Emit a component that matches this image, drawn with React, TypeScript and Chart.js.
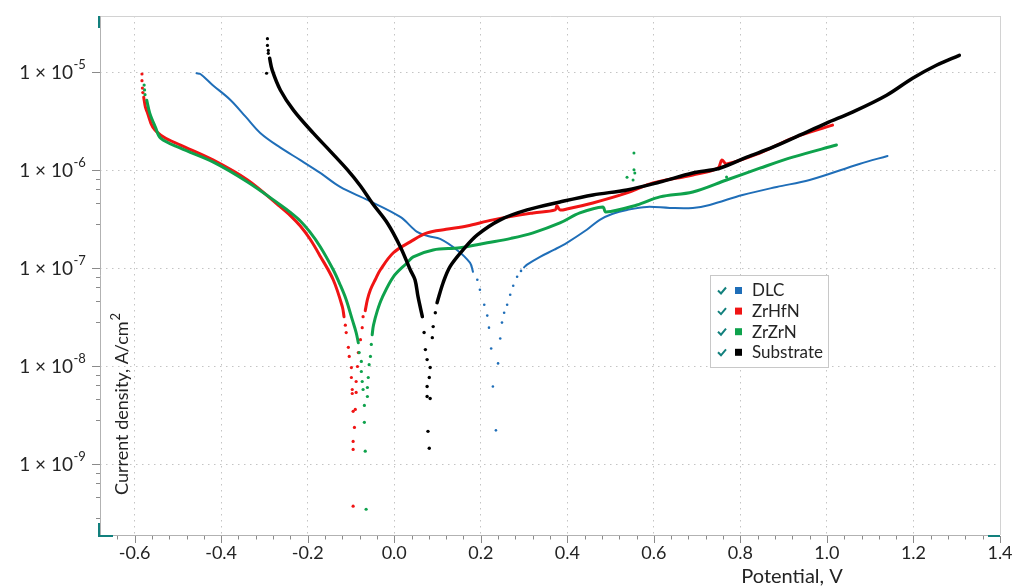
import React, { useEffect, useRef } from "react";
import { Chart, registerables } from "chart.js";

Chart.register(...registerables);

type Pt = [number, number];

// ---------- legend / series ----------
const seriesNames = ["DLC", "ZrHfN", "ZrZrN", "Substrate"];
const seriesColors = ["#1f6eb8", "#f01414", "#0ea24c", "#000000"];

// ---------- axis ticks ----------
const xMin = -0.68;
const xMax = 1.4;
const xMajorTicks = [-0.6, -0.4, -0.2, 0.0, 0.2, 0.4, 0.6, 0.8, 1.0, 1.2, 1.4];
const xMinorStep = 0.04;
const yMin = 1.9e-10;
const yMax = 3.75e-5;
const yMajorTicks = [1e-9, 1e-8, 1e-7, 1e-6, 1e-5];
const yMajorExponents = ["-9", "-8", "-7", "-6", "-5"];
const yMinorFactors = [0.82, 0.64, 0.46, 0.28];

// ---------- DLC (potential V, current density A/cm2) ----------
const dlcCathodic: Pt[] = [
  [-0.457, 9.77e-6], [-0.448, 9.6e-6], [-0.42, 7.43e-6], [-0.378, 5.19e-6], [-0.343, 3.5e-6],
  [-0.309, 2.39e-6], [-0.263, 1.7e-6], [-0.217, 1.27e-6], [-0.171, 9.4e-7], [-0.125, 6.76e-7],
  [-0.062, 4.98e-7], [0.014, 3.34e-7], [0.053, 2.35e-7], [0.08, 2.12e-7], [0.106, 2.0e-7],
  [0.145, 1.54e-7], [0.175, 1.14e-7], [0.182, 9.2e-8],
];
const dlcDip: Pt[] = [
  [0.192, 7.64e-8], [0.198, 6.04e-8], [0.208, 4.25e-8], [0.215, 3.29e-8], [0.219, 2.48e-8],
  [0.224, 1.52e-8], [0.228, 6.23e-9], [0.235, 2.22e-9], [0.24, 1.07e-8], [0.245, 1.92e-8],
  [0.249, 2.79e-8], [0.254, 3.52e-8], [0.261, 4.25e-8], [0.268, 5.37e-8], [0.275, 6.63e-8],
  [0.284, 8.19e-8], [0.293, 9.4e-8],
];
const dlcAnodic: Pt[] = [
  [0.3, 1.02e-7], [0.307, 1.09e-7], [0.337, 1.31e-7], [0.37, 1.55e-7], [0.399, 1.82e-7],
  [0.445, 2.47e-7], [0.475, 3.12e-7], [0.505, 3.6e-7], [0.538, 3.94e-7], [0.584, 4.23e-7],
  [0.637, 4.13e-7], [0.69, 4.13e-7], [0.729, 4.43e-7], [0.805, 5.6e-7], [0.884, 6.76e-7],
  [0.96, 7.96e-7], [1.075, 1.16e-6], [1.14, 1.4e-6],
];

// ---------- ZrHfN ----------
const zrhfnStart: Pt[] = [[-0.583, 9.6e-6], [-0.583, 8.2e-6], [-0.582, 6.9e-6], [-0.581, 6.2e-6]];
const zrhfnCathodic: Pt[] = [
  [-0.579, 5.57e-6], [-0.575, 4.4e-6], [-0.57, 3.83e-6], [-0.558, 2.76e-6], [-0.533, 2.18e-6],
  [-0.494, 1.81e-6], [-0.418, 1.27e-6], [-0.339, 7.96e-7], [-0.263, 4.23e-7], [-0.24, 3.45e-7],
  [-0.217, 2.7e-7], [-0.195, 2.0e-7], [-0.171, 1.33e-7], [-0.141, 7.64e-8], [-0.12, 4.06e-8],
  [-0.116, 3.2e-8],
];
const zrhfnDip: Pt[] = [
  [-0.113, 2.63e-8], [-0.111, 2.21e-8], [-0.106, 1.56e-8], [-0.104, 1.26e-8], [-0.099, 9.71e-9],
  [-0.099, 7.69e-9], [-0.097, 5.8e-9], [-0.097, 5.28e-9], [-0.095, 3.47e-9], [-0.092, 2.38e-9],
  [-0.095, 1.71e-9], [-0.095, 1.42e-9], [-0.095, 3.74e-10], [-0.072, 3.21e-8], [-0.074, 2.48e-8],
  [-0.078, 1.87e-8], [-0.083, 1.38e-8], [-0.085, 9.95e-9], [-0.088, 7.0e-9], [-0.088, 5.41e-9],
  [-0.09, 3.63e-9],
];
const zrhfnAnodic: Pt[] = [
  [-0.067, 3.7e-8], [-0.062, 4.78e-8], [-0.055, 6.04e-8], [-0.044, 7.64e-8], [-0.032, 9.66e-8],
  [-0.002, 1.44e-7], [0.037, 1.86e-7], [0.076, 2.3e-7], [0.12, 2.5e-7], [0.168, 2.7e-7],
  [0.228, 3.12e-7], [0.321, 3.67e-7], [0.372, 3.94e-7], [0.376, 4.35e-7], [0.383, 3.94e-7],
  [0.399, 4.03e-7], [0.459, 4.64e-7], [0.538, 5.87e-7], [0.598, 7.41e-7], [0.69, 8.95e-7],
  [0.748, 1.05e-6], [0.757, 1.27e-6], [0.768, 1.16e-6], [0.845, 1.5e-6], [0.921, 2.13e-6],
  [1.013, 2.89e-6],
];

// ---------- ZrZrN ----------
const zrzrnStart: Pt[] = [[-0.578, 7.4e-6], [-0.577, 6.6e-6], [-0.576, 5.9e-6]];
const zrzrnCathodic: Pt[] = [
  [-0.572, 5.19e-6], [-0.565, 3.83e-6], [-0.552, 2.76e-6], [-0.54, 2.13e-6], [-0.494, 1.68e-6],
  [-0.418, 1.21e-6], [-0.339, 7.59e-7], [-0.263, 4.43e-7], [-0.24, 3.72e-7], [-0.217, 3.04e-7],
  [-0.195, 2.35e-7], [-0.171, 1.66e-7], [-0.141, 9.66e-8], [-0.125, 6.79e-8], [-0.111, 4.78e-8],
  [-0.097, 2.99e-8], [-0.088, 2.21e-8], [-0.083, 1.74e-8],
];
const zrzrnDip: Pt[] = [
  [-0.081, 1.38e-8], [-0.076, 1.12e-8], [-0.076, 8.85e-9], [-0.074, 7.0e-9], [-0.072, 5.8e-9],
  [-0.069, 3.99e-9], [-0.069, 2.68e-9], [-0.067, 1.36e-9], [-0.065, 3.48e-10], [-0.062, 4.92e-9],
  [-0.062, 6.08e-9], [-0.06, 7.69e-9], [-0.058, 1.04e-8], [-0.055, 1.26e-8], [-0.053, 1.67e-8],
];
const zrzrnAnodic: Pt[] = [
  [-0.051, 2.1e-8], [-0.048, 2.62e-8], [-0.039, 3.7e-8], [-0.028, 5.0e-8], [-0.002, 8.19e-8],
  [0.03, 1.14e-7], [0.044, 1.31e-7], [0.09, 1.54e-7], [0.152, 1.62e-7], [0.215, 1.82e-7],
  [0.27, 2.02e-7], [0.321, 2.3e-7], [0.383, 2.9e-7], [0.429, 3.67e-7], [0.482, 4.23e-7],
  [0.489, 3.76e-7], [0.561, 4.43e-7], [0.614, 5.35e-7], [0.69, 6.01e-7], [0.768, 7.96e-7],
  [0.845, 1.05e-6], [0.921, 1.36e-6], [1.022, 1.81e-6],
];
const zrzrnOutliers: Pt[] = [
  [0.554, 1.5e-6], [0.554, 1.01e-6], [0.556, 9.4e-7], [0.538, 8.5e-7], [0.552, 7.96e-7],
  [0.768, 8.53e-7],
];

// ---------- Substrate ----------
const substrateStart: Pt[] = [
  [-0.293, 2.2e-5], [-0.293, 1.88e-5], [-0.291, 1.67e-5], [-0.291, 1.56e-5], [-0.295, 9.77e-6],
];
const substrateCathodic: Pt[] = [
  [-0.288, 1.39e-5], [-0.282, 1.05e-5], [-0.263, 6.56e-6], [-0.233, 4.11e-6], [-0.187, 2.39e-6],
  [-0.148, 1.57e-6], [-0.108, 1.01e-6], [-0.078, 6.92e-7], [-0.051, 4.64e-7], [-0.016, 2.9e-7],
  [0.014, 1.66e-7], [0.037, 9.66e-8], [0.048, 7.64e-8], [0.055, 5.13e-8], [0.065, 3.21e-8],
];
const substrateDip: Pt[] = [
  [0.069, 2.21e-8], [0.072, 1.48e-8], [0.076, 1.17e-8], [0.076, 6.23e-9], [0.076, 4.92e-9],
  [0.078, 2.17e-9], [0.081, 1.46e-9], [0.083, 4.7e-9], [0.081, 7.69e-9], [0.083, 9.71e-9],
  [0.088, 1.96e-8], [0.09, 2.54e-8], [0.095, 3.52e-8],
];
const substrateAnodic: Pt[] = [
  [0.099, 4.46e-8], [0.113, 7.12e-8], [0.129, 1.04e-7], [0.159, 1.54e-7], [0.192, 2.19e-7],
  [0.245, 3.12e-7], [0.307, 3.94e-7], [0.383, 4.75e-7], [0.459, 5.6e-7], [0.538, 6.3e-7],
  [0.614, 7.59e-7], [0.69, 9.38e-7], [0.752, 1.05e-6], [0.815, 1.36e-6], [0.875, 1.72e-6],
  [0.937, 2.28e-6], [0.999, 3.03e-6], [1.059, 3.92e-6], [1.138, 5.83e-6], [1.198, 8.69e-6],
  [1.253, 1.18e-5], [1.306, 1.49e-5],
];

const FONT = "Lato, 'Open Sans', 'DejaVu Sans', sans-serif";
const TEAL = "#12807d";
const TEXT = "#242424";

const toXY = (arr: Pt[]) => arr.map(([x, y]) => ({ x, y }));

function lineDs(label: string, data: Pt[], color: string, width: number, order: number) {
  return {
    type: "scatter" as const,
    label,
    data: toXY(data),
    showLine: true,
    borderColor: color,
    backgroundColor: color,
    borderWidth: width,
    pointRadius: 0,
    pointHoverRadius: 0,
    tension: 0.35,
    borderJoinStyle: "round" as const,
    borderCapStyle: "round" as const,
    order,
  };
}

function dotDs(label: string, data: Pt[], color: string, r: number, order: number) {
  return {
    type: "scatter" as const,
    label,
    data: toXY(data),
    showLine: false,
    borderColor: color,
    backgroundColor: color,
    borderWidth: 0,
    pointRadius: r,
    pointHoverRadius: r,
    order,
  };
}

const isMajorX = (v: number) => Math.abs(v * 5 - Math.round(v * 5)) < 1e-6;

const decorPlugin = {
  id: "decor",
  afterDraw(chart: any) {
    const { ctx, chartArea: a, scales } = chart;
    const xs = scales.x;
    const ys = scales.y;
    ctx.save();

    // frame
    ctx.lineWidth = 1;
    ctx.strokeStyle = "#d2d2d2";
    ctx.beginPath();
    ctx.moveTo(a.left, a.top + 0.5);
    ctx.lineTo(a.right + 0.5, a.top + 0.5);
    ctx.lineTo(a.right + 0.5, a.bottom);
    ctx.stroke();
    ctx.strokeStyle = "#b2b2b2";
    ctx.beginPath();
    ctx.moveTo(a.left + 0.5, a.top);
    ctx.lineTo(a.left + 0.5, a.bottom + 0.5);
    ctx.lineTo(a.right, a.bottom + 0.5);
    ctx.stroke();

    // x tick marks
    ctx.strokeStyle = "#8a8a8a";
    ctx.beginPath();
    const nX = Math.round((xMax - xMin) / xMinorStep);
    for (let i = 1; i <= nX; i++) {
      const v = xMin + i * xMinorStep;
      const px = Math.round(xs.getPixelForValue(v)) + 0.5;
      const len = isMajorX(v) ? 7 : 3.5;
      ctx.moveTo(px, a.bottom + 1);
      ctx.lineTo(px, a.bottom + 1 + len);
    }
    ctx.stroke();

    // y tick marks
    ctx.beginPath();
    const decades = [1e-9, 1e-8, 1e-7, 1e-6, 1e-5, 1e-4];
    decades.forEach((d) => {
      if (d <= yMax && d >= yMin) {
        const py = Math.round(ys.getPixelForValue(d)) + 0.5;
        ctx.moveTo(a.left, py);
        ctx.lineTo(a.left - 8, py);
      }
      if (d >= 1e-5) return;
      yMinorFactors.forEach((f) => {
        const v = d * f;
        if (v < yMin || v > yMax) return;
        const py = Math.round(ys.getPixelForValue(v)) + 0.5;
        ctx.moveTo(a.left, py);
        ctx.lineTo(a.left - 4, py);
      });
    });
    ctx.stroke();

    // y tick labels: 1 × 10^n
    ctx.fillStyle = TEXT;
    yMajorTicks.forEach((v, i) => {
      const py = ys.getPixelForValue(v);
      ctx.font = `19px ${FONT}`;
      ctx.textAlign = "right";
      ctx.textBaseline = "alphabetic";
      ctx.fillText("1 × 10", a.left - 27, py + 6.5);
      ctx.font = `13px ${FONT}`;
      ctx.textAlign = "left";
      ctx.fillText(yMajorExponents[i], a.left - 26.5, py - 3.5);
    });

    // y axis title (inside plot)
    ctx.save();
    ctx.translate(a.left + 28, a.bottom - 40);
    ctx.rotate(-Math.PI / 2);
    ctx.font = `18px ${FONT}`;
    ctx.textAlign = "left";
    ctx.textBaseline = "alphabetic";
    const main = "Current density, A/cm";
    ctx.fillText(main, 0, 0);
    const w = ctx.measureText(main).width;
    ctx.font = `13px ${FONT}`;
    ctx.fillText("2", w + 1, -8);
    ctx.restore();

    // x axis title
    ctx.font = `20px ${FONT}`;
    ctx.textAlign = "center";
    ctx.textBaseline = "alphabetic";
    ctx.fillText("Potential, V", a.left + 692, a.bottom + 48);

    // legend
    const lx = a.left + 610;
    const ly = a.top + 259;
    const lw = 118;
    const lh = 92;
    ctx.fillStyle = "#ffffff";
    ctx.fillRect(lx, ly, lw, lh);
    ctx.strokeStyle = "#c8c8c8";
    ctx.lineWidth = 1;
    ctx.strokeRect(lx + 0.5, ly + 0.5, lw, lh);
    seriesNames.forEach((name, i) => {
      const cy = ly + 16 + i * 20.6;
      ctx.strokeStyle = TEAL;
      ctx.lineWidth = 2;
      ctx.beginPath();
      ctx.moveTo(lx + 8, cy - 0.5);
      ctx.lineTo(lx + 11, cy + 2.5);
      ctx.lineTo(lx + 16, cy - 3.5);
      ctx.stroke();
      ctx.fillStyle = seriesColors[i];
      ctx.fillRect(lx + 25, cy - 4, 7, 7);
      ctx.fillStyle = TEXT;
      ctx.font = `17px ${FONT}`;
      ctx.textAlign = "left";
      ctx.textBaseline = "middle";
      ctx.fillText(name, lx + 42, cy);
    });

    // teal selection marks
    ctx.strokeStyle = TEAL;
    ctx.lineWidth = 2;
    ctx.beginPath();
    ctx.moveTo(a.left - 1, a.top);
    ctx.lineTo(a.left - 1, a.top + 12);
    ctx.moveTo(a.left - 1, a.bottom - 12);
    ctx.lineTo(a.left - 1, a.bottom + 1);
    ctx.lineTo(a.left + 13, a.bottom + 1);
    ctx.moveTo(a.right - 12, a.bottom + 1);
    ctx.lineTo(a.right, a.bottom + 1);
    ctx.stroke();

    ctx.restore();
  },
};

export default function App() {
  const ref = useRef<HTMLCanvasElement>(null);

  useEffect(() => {
    const canvas = ref.current;
    if (!canvas) return;
    const [cBlue, cRed, cGreen, cBlack] = seriesColors;
    const [nBlue, nRed, nGreen, nBlack] = seriesNames;

    const datasets: any[] = [
      lineDs(nBlue, dlcCathodic, cBlue, 2, 4),
      dotDs(nBlue, dlcDip, cBlue, 1.3, 4),
      lineDs(nBlue, dlcAnodic, cBlue, 2, 4),

      dotDs(nRed, zrhfnStart, cRed, 1.6, 3),
      lineDs(nRed, zrhfnCathodic, cRed, 3, 3),
      dotDs(nRed, zrhfnDip, cRed, 1.6, 3),
      lineDs(nRed, zrhfnAnodic, cRed, 3, 3),

      dotDs(nGreen, zrzrnStart, cGreen, 1.6, 2),
      lineDs(nGreen, zrzrnCathodic, cGreen, 3, 2),
      dotDs(nGreen, zrzrnDip, cGreen, 1.6, 2),
      lineDs(nGreen, zrzrnAnodic, cGreen, 3, 2),
      dotDs(nGreen, zrzrnOutliers, cGreen, 1.5, 2),

      dotDs(nBlack, substrateStart, cBlack, 1.6, 1),
      lineDs(nBlack, substrateCathodic, cBlack, 3.5, 1),
      dotDs(nBlack, substrateDip, cBlack, 1.7, 1),
      lineDs(nBlack, substrateAnodic, cBlack, 3.5, 1),
    ];

    const gridCommon = { color: "#c4c4c4", lineWidth: 1, drawTicks: false };
    const borderCommon = { display: false, dash: [1.5, 4.5] };

    const chart = new Chart(canvas, {
      type: "scatter",
      data: { datasets },
      options: {
        animation: false,
        responsive: false,
        devicePixelRatio: 1,
        events: [],
        layout: { padding: { left: 0, right: 24, top: 16, bottom: 0 } },
        plugins: {
          legend: { display: false },
          tooltip: { enabled: false },
          title: { display: false },
        },
        scales: {
          x: {
            type: "linear",
            min: xMin,
            max: xMax,
            bounds: "data",
            afterBuildTicks: (s: any) => {
              s.ticks = xMajorTicks.map((v) => ({ value: v }));
            },
            afterFit: (s: any) => {
              s.height = 51;
            },
            ticks: {
              autoSkip: false,
              maxRotation: 0,
              minRotation: 0,
              padding: 7,
              color: TEXT,
              font: { family: FONT, size: 18 },
              callback: (v: any) => Number(v).toFixed(1),
            },
            grid: gridCommon,
            border: borderCommon,
          },
          y: {
            type: "logarithmic",
            min: yMin,
            max: yMax,
            bounds: "data",
            afterBuildTicks: (s: any) => {
              s.ticks = yMajorTicks.map((v) => ({ value: v }));
            },
            afterFit: (s: any) => {
              s.width = 100;
            },
            ticks: { display: false },
            grid: gridCommon,
            border: borderCommon,
          },
        },
      } as any,
      plugins: [decorPlugin],
    });
    return () => chart.destroy();
  }, []);

  return (
    <div style={{ position: "absolute", left: 0, top: 0, width: 1024, height: 586, background: "#ffffff" }}>
      <canvas ref={ref} width={1024} height={586} style={{ display: "block" }} />
    </div>
  );
}
